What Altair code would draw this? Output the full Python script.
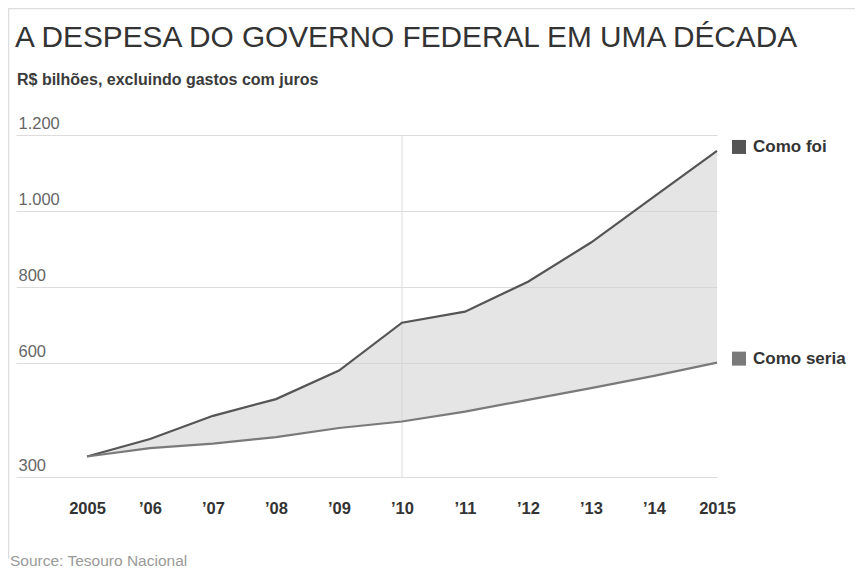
import altair as alt
import pandas as pd

# ---- data ----
anos = [2005, 2006, 2007, 2008, 2009, 2010, 2011, 2012, 2013, 2014, 2015]
como_foi = [354, 400, 461, 505, 580, 706, 735, 814, 917, 1038, 1158]
como_seria = [354, 376, 388, 405, 429, 446, 472, 503, 534, 566, 601]
series = ["Como foi", "Como seria"]
y_ticks = [300, 600, 800, 1000, 1200]
titulo = "A DESPESA DO GOVERNO FEDERAL EM UMA DÉCADA"
subtitulo = "R$ bilhões, excluindo gastos com juros"
fonte = "Source: Tesouro Nacional"

FONT = "Liberation Sans"
line_colors = ["#555555", "#7a7a7a"]
square_colors = ["#555555", "#808080"]

wide = pd.DataFrame({"ano": anos, "foi": como_foi, "seria": como_seria})
long = pd.concat([
    pd.DataFrame({"ano": anos, "valor": como_foi, "serie": series[0]}),
    pd.DataFrame({"ano": anos, "valor": como_seria, "serie": series[1]}),
])
ends = pd.DataFrame({"ano": [anos[-1], anos[-1]],
                     "valor": [como_foi[-1], como_seria[-1]],
                     "serie": series})

x_scale = alt.Scale(domain=[2003.873, 2015], nice=False, zero=False)
y_scale = alt.Scale(domain=[300, 1200], nice=False, zero=False)

x_axis = alt.Axis(values=anos, grid=False, domain=False, ticks=False, tickSize=0,
                  labelFlush=False, labelOverlap=False, labelBound=False,
                  labelPadding=31, labelBaseline="middle",
                  labelFont=FONT, labelFontSize=16.5, labelFontWeight="bold",
                  labelColor="#333333", title=None,
                  labelExpr="(datum.value == 2005 || datum.value == 2015) ? format(datum.value, 'd') : '\u2019' + slice(format(datum.value, 'd'), 2)")
y_axis = alt.Axis(values=y_ticks, grid=True, gridColor="#dcdcdc", gridWidth=1,
                  domain=False, ticks=False, tickSize=0,
                  labelFlush=False, labelOverlap=False, labelBound=False,
                  labelAlign="left", labelBaseline="alphabetic",
                  labelPadding=-2, labelOffset=-7,
                  labelFont=FONT, labelFontSize=16.5, labelColor="#666666",
                  title=None,
                  labelExpr="replace(format(datum.value, ','), ',', '.')")

base_x = alt.X("ano:Q", scale=x_scale, axis=x_axis)

rule2010 = alt.Chart(pd.DataFrame({"ano": [anos[5]]})).mark_rule(
    color="#dcdcdc", strokeWidth=1).encode(x=alt.X("ano:Q", scale=x_scale))

area = alt.Chart(wide).mark_area(color="#cfcfcf", opacity=0.55).encode(
    x=base_x,
    y=alt.Y("foi:Q", scale=y_scale, axis=y_axis),
    y2="seria:Q",
)

lines = alt.Chart(long).mark_line(strokeWidth=2.2).encode(
    x=alt.X("ano:Q", scale=x_scale),
    y=alt.Y("valor:Q", scale=y_scale),
    color=alt.Color("serie:N", scale=alt.Scale(domain=series, range=line_colors), legend=None),
    detail="serie:N",
)

squares = alt.Chart(ends).mark_square(size=196, filled=True, opacity=1,
                                      xOffset=22, yOffset=-4).encode(
    x=alt.X("ano:Q", scale=x_scale),
    y=alt.Y("valor:Q", scale=y_scale),
    color=alt.Color("serie:N", scale=alt.Scale(domain=series, range=square_colors), legend=None),
)

labels = alt.Chart(ends).mark_text(align="left", baseline="middle", dx=36, dy=-4,
                                   font=FONT, fontSize=17, fontWeight="bold",
                                   color="#333333").encode(
    x=alt.X("ano:Q", scale=x_scale),
    y=alt.Y("valor:Q", scale=y_scale),
    text="serie:N",
)

frame_df = pd.DataFrame({"a": [0]})
frame_top = alt.Chart(frame_df).mark_rule(color="#dddddd", strokeWidth=1.5).encode(
    x=alt.value(-8), x2=alt.value(839), y=alt.value(-126.5))
frame_left = alt.Chart(frame_df).mark_rule(color="#dddddd", strokeWidth=1.5).encode(
    x=alt.value(-7.5), y=alt.value(-127), y2=alt.value(424))

title_mark = alt.Chart(pd.DataFrame({"t": [titulo]})).mark_text(
    align="left", baseline="alphabetic", font=FONT, fontSize=29.8,
    fontWeight="normal", color="#333333").encode(
    x=alt.value(-1), y=alt.value(-88), text="t:N")

subtitle_mark = alt.Chart(pd.DataFrame({"t": [subtitulo]})).mark_text(
    align="left", baseline="alphabetic", font=FONT, fontSize=16,
    fontWeight="bold", color="#3a3a3a").encode(
    x=alt.value(1), y=alt.value(-50), text="t:N")

source = alt.Chart(pd.DataFrame({"t": [fonte]})).mark_text(
    align="left", baseline="alphabetic", font=FONT, fontSize=15.5, color="#9a9a9a").encode(
    x=alt.value(-6), y=alt.value(431), text="t:N")

chart = alt.layer(frame_top, frame_left, rule2010, area, lines, squares, labels,
                  title_mark, subtitle_mark, source).properties(
    width=701, height=342,
    autosize=alt.AutoSizeParams(type="none"),
    padding={"left": 8, "top": 127, "right": 138, "bottom": 94},
    background="white",
).configure_view(stroke=None)

chart.save("out.html", embed_options={"renderer": "svg", "actions": False})
